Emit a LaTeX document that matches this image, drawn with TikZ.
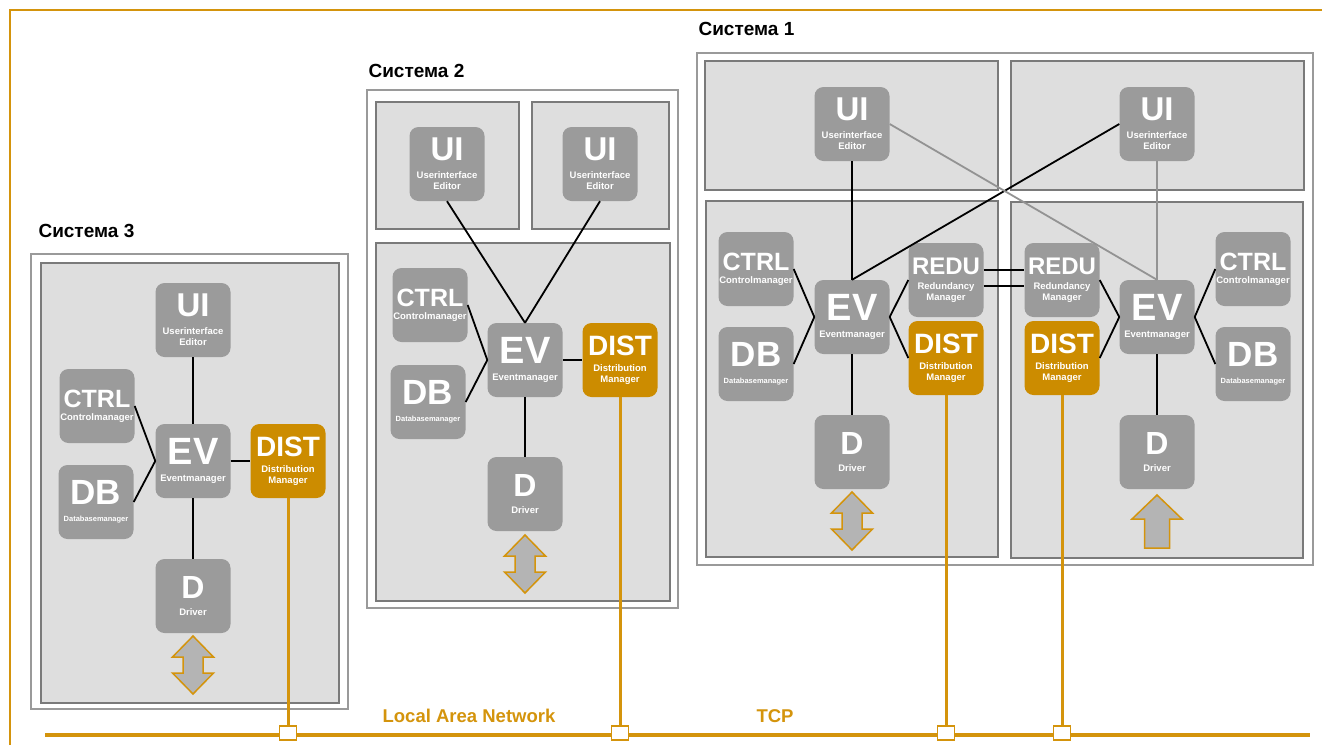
\documentclass[tikz,border=0pt]{standalone}
\usepackage{fontspec}
\setmainfont{Liberation Sans}
\usepackage{tikz}

\definecolor{modgray}{HTML}{9B9B9B}
\definecolor{boxgray}{HTML}{DEDEDE}
\definecolor{linegray}{HTML}{7A7A7A}
\definecolor{framegray}{HTML}{9A9A9A}
\definecolor{distorange}{HTML}{CC8C00}
\definecolor{lanorange}{HTML}{D4940C}
\definecolor{arrowfill}{HTML}{B4B4B4}

\newcommand\fs[1]{\fontsize{#1}{#1}\selectfont}
\newcommand\sm{\fontsize{9.5}{11}\selectfont}

\begin{document}
\begin{tikzpicture}[x=1pt, y=-1pt,
    module/.style={rectangle, rounded corners=9pt, fill=modgray, text=white,
                   font=\bfseries\sm, align=center, inner sep=0pt,
                   minimum width=75pt, minimum height=74pt},
    distmod/.style={module, fill=distorange},
    outerbox/.style={draw=framegray, line width=2pt, fill=white},
    innerbox/.style={draw=linegray, line width=1.5pt, fill=boxgray},
    link/.style={draw=black, line width=1.8pt},
    greylink/.style={draw=gray!85, line width=1.8pt},
    distlink/.style={draw=lanorange, line width=3pt},
    port/.style={rectangle, draw=lanorange, fill=white, line width=1.2pt,
                 minimum width=17pt, minimum height=14pt, inner sep=0pt},
    systitle/.style={anchor=base west, font=\bfseries\fontsize{19}{19}\selectfont},
    nettext/.style={text=lanorange, font=\bfseries\fontsize{18.5}{18.5}\selectfont},
    iostub/.style={draw=lanorange, fill=arrowfill, line width=1.5pt}]

    \useasboundingbox (0,0) rectangle (1322,745);

    % frame
    \draw[lanorange, line width=2pt] (10,745) -- (10,10) -- (1322,10);

    % Система 3
    \node[systitle] (t3) at (35,237) {Система 3};
    \draw[outerbox] (31,254) rectangle (348,709);
    \draw[innerbox] (41,263) rectangle (339,703);

    \node[module] (ui3) at (193,320) {\fs{33}UI\\[7pt]\sm Userinterface\\Editor};
    \node[module] (ctrl3) at (97,406) {\fs{25}CTRL\\[2pt]\sm Controlmanager};
    \node[module] (ev3) at (193,461) {\fs{38}EV\\[6.5pt]\sm Eventmanager};
    \node[module] (db3) at (96,502) {\fs{35}DB\\[6pt]\fontsize{7.5}{11}\selectfont Databasemanager};
    \node[distmod] (dist3) at (288,461) {\fs{28}DIST\\[5pt]\sm Distribution\\Manager};
    \node[module] (d3) at (193,596) {\fs{32}D\\[6pt]\sm Driver};

    \draw[link] (ui3) -- (ev3);
    \draw[link] (ctrl3.east) -- (ev3.west);
    \draw[link] (db3.east) -- (ev3.west);
    \draw[link] (ev3) -- (dist3);
    \draw[link] (ev3) -- (d3);

    % Система 2
    \node[systitle] (t2) at (365,77) {Система 2};
    \draw[outerbox] (367,90) rectangle (678,608);
    \draw[innerbox] (376,102) rectangle (519,229);
    \draw[innerbox] (532,102) rectangle (669,229);
    \draw[innerbox] (376,243) rectangle (670,601);

    \node[module] (ui2l) at (447,164) {\fs{33}UI\\[7pt]\sm Userinterface\\Editor};
    \node[module] (ui2r) at (600,164) {\fs{33}UI\\[7pt]\sm Userinterface\\Editor};
    \node[module] (ctrl2) at (430,305) {\fs{25}CTRL\\[2pt]\sm Controlmanager};
    \node[module] (ev2) at (525,360) {\fs{38}EV\\[6.5pt]\sm Eventmanager};
    \node[module] (db2) at (428,402) {\fs{35}DB\\[6pt]\fontsize{7.5}{11}\selectfont Databasemanager};
    \node[distmod] (dist2) at (620,360) {\fs{28}DIST\\[5pt]\sm Distribution\\Manager};
    \node[module] (d2) at (525,494) {\fs{32}D\\[6pt]\sm Driver};

    \draw[link] (ui2l.south) -- (ev2.north);
    \draw[link] (ui2r.south) -- (ev2.north);
    \draw[link] (ctrl2.east) -- (ev2.west);
    \draw[link] (db2.east) -- (ev2.west);
    \draw[link] (ev2) -- (dist2);
    \draw[link] (ev2) -- (d2);

    % Система 1
    \node[systitle] (t1) at (695,35) {Система 1};
    \draw[outerbox] (697,53) rectangle (1313,565);
    \draw[innerbox] (705,61) rectangle (998,190);
    \draw[innerbox] (1011,61) rectangle (1304,190);
    \draw[innerbox] (706,201) rectangle (998,557);
    \draw[innerbox] (1011,202) rectangle (1303,558);

    \node[module] (ui1l) at (852,124) {\fs{33}UI\\[7pt]\sm Userinterface\\Editor};
    \node[module] (ctrl1l) at (756,269) {\fs{25}CTRL\\[2pt]\sm Controlmanager};
    \node[module] (ev1l) at (852,317) {\fs{38}EV\\[6.5pt]\sm Eventmanager};
    \node[module] (db1l) at (756,364) {\fs{35}DB\\[6pt]\fontsize{7.5}{11}\selectfont Databasemanager};
    \node[module] (redu1l) at (946,280) {\fs{24}REDU\\[4pt]\sm Redundancy\\Manager};
    \node[distmod] (dist1l) at (946,358) {\fs{28}DIST\\[5pt]\sm Distribution\\Manager};
    \node[module] (d1l) at (852,452) {\fs{32}D\\[6pt]\sm Driver};

    \node[module] (ui1r) at (1157,124) {\fs{33}UI\\[7pt]\sm Userinterface\\Editor};
    \node[module] (redu1r) at (1062,280) {\fs{24}REDU\\[4pt]\sm Redundancy\\Manager};
    \node[distmod] (dist1r) at (1062,358) {\fs{28}DIST\\[5pt]\sm Distribution\\Manager};
    \node[module] (ev1r) at (1157,317) {\fs{38}EV\\[6.5pt]\sm Eventmanager};
    \node[module] (ctrl1r) at (1253,269) {\fs{25}CTRL\\[2pt]\sm Controlmanager};
    \node[module] (db1r) at (1253,364) {\fs{35}DB\\[6pt]\fontsize{7.5}{11}\selectfont Databasemanager};
    \node[module] (d1r) at (1157,452) {\fs{32}D\\[6pt]\sm Driver};

    \draw[link] (ui1l.south) -- (ev1l.north);
    \draw[link] (ui1r.west) -- (ev1l.north);
    \draw[greylink] (ui1l.east) -- (ev1r.north);
    \draw[greylink] (ui1r.south) -- (ev1r.north);
    \draw[link] (ctrl1l.east) -- (ev1l.west);
    \draw[link] (db1l.east) -- (ev1l.west);
    \draw[link] (ev1l.east) -- (redu1l.west);
    \draw[link] (ev1l.east) -- (dist1l.west);
    \draw[link] (ev1l) -- (d1l);
    \draw[link] ([yshift=10pt]redu1l.east) -- ([yshift=10pt]redu1r.west);
    \draw[link] ([yshift=-6pt]redu1l.east) -- ([yshift=-6pt]redu1r.west);
    \draw[link] (redu1r.east) -- (ev1r.west);
    \draw[link] (dist1r.east) -- (ev1r.west);
    \draw[link] (ctrl1r.west) -- (ev1r.east);
    \draw[link] (db1r.west) -- (ev1r.east);
    \draw[link] (ev1r) -- (d1r);

    % driver I/O
    \foreach \x/\y in {193/636, 525/535, 852/492}
        \draw[iostub] (\x,\y) -- ++(20.5,21) -- ++(-10.5,0) -- ++(0,16) -- ++(10.5,0)
            -- ++(-20.5,21) -- ++(-20.5,-21) -- ++(10.5,0) -- ++(0,-16) -- ++(-10.5,0) -- cycle;
    \draw[iostub] (1157,495) -- ++(25,24) -- ++(-12.5,0) -- ++(0,29) -- ++(-25,0)
        -- ++(0,-29) -- ++(-12.5,0) -- cycle;

    % network
    \coordinate (lanL) at (45,735);
    \coordinate (lanR) at (1310,735);
    \draw[lanorange, line width=4.5pt] (lanL) -- (lanR);
    \node[nettext] (lan) at (469,716) {Local Area Network};
    \node[nettext] (tcp) at (775,716) {TCP};

    \node[port] (port3) at (288,733) {};
    \node[port] (port2) at (620,733) {};
    \node[port] (port1l) at (946,733) {};
    \node[port] (port1r) at (1062,733) {};

    \draw[distlink] (dist3) -- (port3);
    \draw[distlink] (dist2) -- (port2);
    \draw[distlink] (dist1l) -- (port1l);
    \draw[distlink] (dist1r) -- (port1r);
\end{tikzpicture}
\end{document}
